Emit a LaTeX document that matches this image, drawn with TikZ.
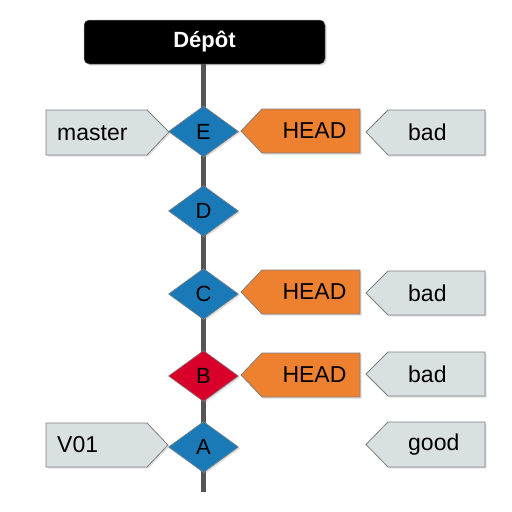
\documentclass[tikz,border=0pt]{standalone}
\usepackage{fontspec}
\setmainfont{Liberation Sans}
\usetikzlibrary{shapes.geometric,shadows}
\definecolor{cblue}{HTML}{1A7AB8}
\definecolor{cred}{HTML}{D8002A}
\definecolor{corange}{HTML}{EE8130}
\definecolor{cgray}{HTML}{D9E0E1}
\definecolor{cedge}{HTML}{7F7F7F}
\definecolor{cline}{HTML}{555555}
\begin{document}
\begin{tikzpicture}[x=1pt,y=-1pt,
  shd/.style={drop shadow={opacity=0.25,shadow xshift=1.5pt,shadow yshift=-1.5pt}},
  commit/.style={shape=diamond,draw=cedge,line width=0.6pt,fill=cblue,minimum width=70pt,minimum height=51pt,inner sep=0pt,font=\fontsize{22}{25}\selectfont,shd},
  flaggray/.style={draw=cedge,line width=0.8pt,fill=cgray,shd},
  flagorange/.style={draw=cedge,line width=0.8pt,fill=corange,shd},
  lbl/.style={font=\fontsize{23}{27}\selectfont,inner sep=0pt},
  trunk/.style={draw=cline,line width=5pt}]
\useasboundingbox (0,0) rectangle (512,512);
% repository header
\node[draw=cedge,line width=0.5pt,fill=black,rounded corners=5pt,minimum width=241pt,minimum height=44pt,text=white,font=\bfseries\fontsize{22}{25}\selectfont,shd] (depot) at (204.5,42) {Dépôt};
\coordinate (end) at (203.5,492);
% commits
\coordinate (pE) at (203.5,131.5);
\coordinate (pD) at (203.5,211);
\coordinate (pC) at (203.5,294);
\coordinate (pB) at (203.5,376);
\coordinate (pA) at (203.5,447);
\draw[trunk] (depot.south -| pE) -- (end);
\node[commit] (E) at (pE) {E};
\node[commit] (D) at (pD) {D};
\node[commit] (C) at (pC) {C};
\node[commit,fill=cred] (B) at (pB) {B};
\node[commit] (A) at (pA) {A};
% left labels
\draw[flaggray] (46,110) -- (147,110) -- (169,132) -- (147,155) -- (46,155) -- cycle;
\node[lbl,anchor=west] (master) at (57,133) {master};
\draw[flaggray] (46,423) -- (147,423) -- (168,445) -- (147,467) -- (46,467) -- cycle;
\node[lbl,anchor=west] (v01) at (57,445) {V01};
% HEAD flags
\draw[flagorange] (241,131) -- (262,109) -- (360,109) -- (360,153) -- (262,153) -- cycle;
\node[lbl] (headE) at (314.5,131) {HEAD};
\draw[flagorange] (241,292) -- (262,270) -- (360,270) -- (360,314) -- (262,314) -- cycle;
\node[lbl] (headC) at (314.5,292) {HEAD};
\draw[flagorange] (241,375) -- (262,353) -- (360,353) -- (360,397) -- (262,397) -- cycle;
\node[lbl] (headB) at (314.5,375) {HEAD};
% bad / good flags
\draw[flaggray] (366,132) -- (388,110) -- (485,110) -- (485,155) -- (388,155) -- cycle;
\node[lbl,anchor=west] (badE) at (408,132) {bad};
\draw[flaggray] (366,293) -- (388,271) -- (485,271) -- (485,315) -- (388,315) -- cycle;
\node[lbl,anchor=west] (badC) at (408,293) {bad};
\draw[flaggray] (366,374) -- (388,352) -- (485,352) -- (485,396) -- (388,396) -- cycle;
\node[lbl,anchor=west] (badB) at (408,374) {bad};
\draw[flaggray] (366,444.5) -- (388,422) -- (485,422) -- (485,467) -- (388,467) -- cycle;
\node[lbl,anchor=west] (goodA) at (408,444.5) {good};
\end{tikzpicture}
\end{document}
